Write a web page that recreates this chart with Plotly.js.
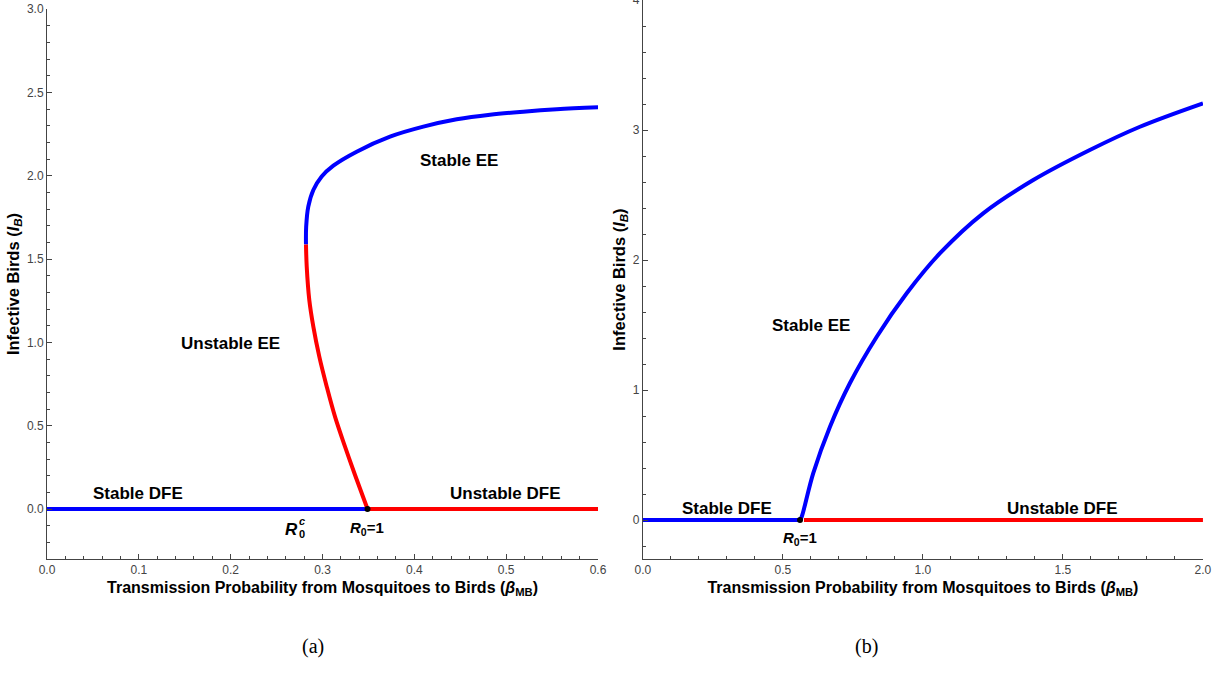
<!DOCTYPE html>
<html>
<head>
<meta charset="utf-8">
<script src="https://cdn.plot.ly/plotly-3.0.1.min.js"></script>
<style>html,body{margin:0;padding:0;background:#fff;}</style>
</head>
<body>
<div id="chart" style="width:1227px;height:677px;"></div>
<script>
// ---- Panel (a) data ----
const aStableDFE_x = [0, 0.349];
const aStableDFE_y = [0, 0];
const aUnstableDFE_x = [0.349, 0.6];
const aUnstableDFE_y = [0, 0];
const aUnstableEE_x = [0.349, 0.3354, 0.3245, 0.3136, 0.3046, 0.2965, 0.2900, 0.2856, 0.2828, 0.2820];
const aUnstableEE_y = [0, 0.204, 0.374, 0.554, 0.734, 0.914, 1.094, 1.254, 1.454, 1.588];
const aStableEE_x = [0.2820, 0.2822, 0.2845, 0.2900, 0.2991, 0.3118, 0.3372, 0.3735, 0.4098, 0.4461, 0.4824, 0.5187, 0.5550, 0.6];
const aStableEE_y = [1.588, 1.694, 1.814, 1.914, 1.995, 2.060, 2.144, 2.234, 2.294, 2.338, 2.366, 2.384, 2.398, 2.41];
const aBifPoint_x = [0.349];
const aBifPoint_y = [0];

// ---- Panel (b) data ----
const bStableDFE_x = [0, 0.561];
const bStableDFE_y = [0, 0];
const bUnstableDFE_x = [0.575, 2.0];
const bUnstableDFE_y = [0, 0];
const bStableEE_x = [0.561, 0.567, 0.608, 0.668, 0.739, 0.835, 0.942, 1.061, 1.215, 1.394, 1.596, 1.775, 2.0];
const bStableEE_y = [0, 0.025, 0.359, 0.718, 1.052, 1.410, 1.744, 2.052, 2.359, 2.615, 2.846, 3.025, 3.205];
const bBifPoint_x = [0.561];
const bBifPoint_y = [0];

// tick values
const aXTicks = [0, 0.1, 0.2, 0.3, 0.4, 0.5, 0.6];
const aYTicks = [0, 0.5, 1.0, 1.5, 2.0, 2.5, 3.0];
const bXTicks = [0, 0.5, 1.0, 1.5, 2.0];
const bYTicks = [0, 1, 2, 3, 4];

const BLUE = '#0000ff', RED = '#ff0000';
const LW = 4;

function line(x, y, color, xa, ya) {
  return {x: x, y: y, type: 'scatter', mode: 'lines', xaxis: xa, yaxis: ya,
          line: {color: color, width: LW, shape: 'spline', smoothing: 1},
          hoverinfo: 'skip', showlegend: false};
}
function dot(x, y, xa, ya) {
  return {x: x, y: y, type: 'scatter', mode: 'markers', xaxis: xa, yaxis: ya,
          marker: {color: '#000', size: 6}, hoverinfo: 'skip', showlegend: false};
}

const data = [
  line(aUnstableDFE_x, aUnstableDFE_y, RED, 'x', 'y'),
  line(aStableDFE_x, aStableDFE_y, BLUE, 'x', 'y'),
  line(aUnstableEE_x, aUnstableEE_y, RED, 'x', 'y'),
  line(aStableEE_x, aStableEE_y, BLUE, 'x', 'y'),
  dot(aBifPoint_x, aBifPoint_y, 'x', 'y'),
  line(bUnstableDFE_x, bUnstableDFE_y, RED, 'x2', 'y2'),
  line(bStableDFE_x, bStableDFE_y, BLUE, 'x2', 'y2'),
  line(bStableEE_x, bStableEE_y, BLUE, 'x2', 'y2'),
  dot(bBifPoint_x, bBifPoint_y, 'x2', 'y2')
];

const FONT = 'Liberation Sans, Arial, sans-serif';
const AX = '#444';
function axis(extra) {
  return Object.assign({
    showline: true, linecolor: AX, linewidth: 1,
    ticks: 'inside', ticklen: 5, tickwidth: 1, tickcolor: AX,
    showgrid: false, zeroline: false, mirror: false,
    tickfont: {family: FONT, size: 12, color: '#444'},
    ticklabeloverflow: 'allow',
    fixedrange: true
  }, extra);
}
function minor(d) {
  return {ticks: 'inside', ticklen: 3, tickwidth: 1, dtick: d, tickcolor: AX, showgrid: false};
}
const xTitle = 'Transmission Probability from Mosquitoes to Birds (<i>β</i><sub>MB</sub>)';
const yTitle = 'Infective Birds (<i>I<sub>B</sub></i>)';
const xTitleFont = {family: FONT, size: 16, color: '#000', weight: 'bold'};
const yTitleFont = {family: FONT, size: 16.5, color: '#000', weight: 'bold'};

const labFont = {family: FONT, size: 17, color: '#000', weight: 'bold'};
function lab(text, x, y, xr, yr, size) {
  return {text: '<b>' + text + '</b>', x: x, y: y, xref: xr, yref: yr, showarrow: false,
          font: Object.assign({}, labFont, size ? {size: size} : {}), xanchor: 'center', yanchor: 'middle'};
}

const layout = {
  width: 1227, height: 677,
  margin: {l: 0, r: 0, t: 0, b: 0},
  paper_bgcolor: '#fff', plot_bgcolor: '#fff',
  showlegend: false,
  xaxis: axis({domain: [0.0383, 0.4874], range: [0, 0.6], tickvals: aXTicks, tickformat: '.1f',
    minor: minor(0.02), anchor: 'y', title: {text: xTitle, font: xTitleFont, standoff: 5}}),
  yaxis: axis({domain: [0.1743, 0.9867], range: [-0.3, 3.0], tickvals: aYTicks, tickformat: '.1f',
    minor: minor(0.1), anchor: 'x', title: {text: yTitle, font: yTitleFont, standoff: 3}}),
  xaxis2: axis({domain: [0.5240, 0.9804], range: [0, 2.0], tickvals: bXTicks, tickformat: '.1f',
    minor: minor(0.1), anchor: 'y2', title: {text: xTitle, font: xTitleFont, standoff: 5}}),
  yaxis2: axis({domain: [0.1743, 1.0], range: [-0.3, 4.0], tickvals: bYTicks, tickformat: 'd',
    minor: minor(0.2), anchor: 'x2', title: {text: yTitle, font: yTitleFont, standoff: 3}}),
  annotations: [
    lab('Stable EE', 0.4486, 2.094, 'x', 'y'),
    lab('Unstable EE', 0.1993, 0.996, 'x', 'y'),
    lab('Stable DFE', 0.0991, 0.093, 'x', 'y'),
    lab('Unstable DFE', 0.4987, 0.093, 'x', 'y'),
    lab('<i>R</i>', 0.2657, -0.12, 'x', 'y', 17),
    lab('<i>c</i>', 0.2782, -0.073, 'x', 'y', 11),
    lab('0', 0.2782, -0.15, 'x', 'y', 11),
    lab('<i>R</i><sub>0</sub>=1', 0.3479, -0.114, 'x', 'y', 15),
    lab('Stable EE', 0.60, 1.50, 'x2', 'y2'),
    lab('Stable DFE', 0.30, 0.092, 'x2', 'y2'),
    lab('Unstable DFE', 1.50, 0.092, 'x2', 'y2'),
    lab('<i>R</i><sub>0</sub>=1', 0.561, -0.146, 'x2', 'y2', 15),
    {text: '(a)', x: 0.2445, y: 0.0251, xref: 'paper', yref: 'paper', showarrow: false,
     font: {family: 'Liberation Serif, Times New Roman, serif', size: 20, color: '#000'}},
    {text: '(b)', x: 0.7172, y: 0.0251, xref: 'paper', yref: 'paper', showarrow: false,
     font: {family: 'Liberation Serif, Times New Roman, serif', size: 20, color: '#000'}}
  ]
};

Plotly.newPlot('chart', data, layout, {displayModeBar: false, staticPlot: true});
</script>
</body>
</html>
